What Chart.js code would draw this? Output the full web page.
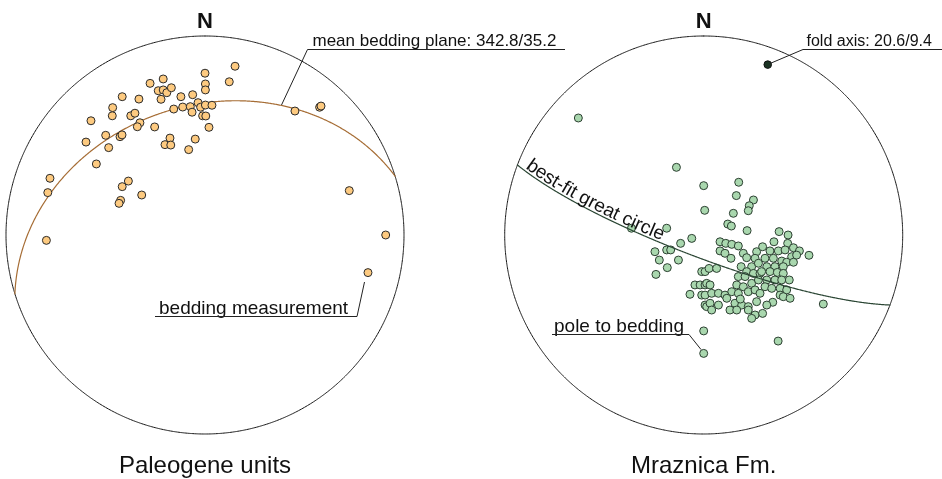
<!DOCTYPE html>
<html>
<head>
<meta charset="utf-8">
<script src="https://cdn.jsdelivr.net/npm/chart.js@4.4.1/dist/chart.umd.min.js"></script>
<style>
html,body{margin:0;padding:0;background:#ffffff;}
#wrap{width:942px;height:479px;position:relative;}
canvas{display:block;}
</style>
</head>
<body>
<div id="wrap"><canvas id="c" width="942" height="479"></canvas></div>
<script>
// ---------------- DATA ----------------
const northLabel = "N";
const leftTitle = "Paleogene units";
const rightTitle = "Mraznica Fm.";
const meanPlaneLabel = "mean bedding plane: 342.8/35.2";
const foldAxisLabel = "fold axis: 20.6/9.4";
const beddingLabel = "bedding measurement";
const poleLabel = "pole to bedding";
const gcLabel = "best-fit great circle";

// mean bedding plane (dip direction / dip), Paleogene units
const meanPlane = { dipDir: 342.8, dip: 35.2 };
// fold axis (trend / plunge), Mraznica Fm.
const foldAxis = { trend: 20.6, plunge: 9.4 };

// Paleogene units: bedding measurements, equal-area net coordinates [east, north] (unit radius)
const paleogeneBedding = [
  [0.151,0.848],[0.000,0.813],[0.122,0.770],[0.002,0.759],[0.002,0.729],[-0.276,0.762],
  [-0.210,0.784],[-0.235,0.725],[-0.210,0.729],[-0.192,0.715],[-0.169,0.740],[-0.221,0.682],
  [-0.121,0.695],[-0.062,0.705],[-0.416,0.695],[-0.332,0.683],[-0.464,0.640],[-0.466,0.599],
  [-0.373,0.599],[-0.352,0.612],[-0.573,0.574],[-0.157,0.633],[-0.112,0.643],[-0.074,0.645],
  [-0.065,0.617],[-0.035,0.665],[-0.022,0.642],[0.002,0.653],[0.035,0.652],[-0.012,0.599],
  [0.004,0.598],[-0.327,0.564],[-0.340,0.544],[-0.253,0.543],[0.020,0.541],[-0.598,0.467],
  [-0.499,0.501],[-0.427,0.494],[-0.417,0.503],[-0.484,0.439],[-0.176,0.487],[-0.201,0.454],
  [-0.172,0.452],[-0.049,0.482],[-0.082,0.429],[-0.546,0.357],[0.452,0.623],[0.576,0.642],
  [0.583,0.648],[-0.779,0.285],[-0.790,0.213],[-0.385,0.271],[-0.416,0.243],[-0.424,0.174],
  [-0.432,0.159],[-0.318,0.201],[0.725,0.223],[0.908,0.000],[0.819,-0.189],[-0.797,-0.027]
];

// Mraznica Fm.: poles to bedding, equal-area net coordinates [east, north]
const mraznicaScattered = [
  [-0.630,0.588],[-0.137,0.340],[0.000,0.248],[0.176,0.265],[0.164,0.198],[0.250,0.176],
  [0.229,0.147],[0.224,0.122],[0.005,0.124],[0.149,0.109],[0.121,0.055],[0.139,0.045],
  [0.218,0.022],[-0.363,0.034],[-0.186,0.034],[-0.060,-0.017],[-0.116,-0.042],[-0.245,-0.084],
  [-0.186,-0.075],[-0.166,-0.075],[-0.223,-0.126],[-0.127,-0.126],[-0.183,-0.164],[-0.240,-0.198],
  [0.529,-0.102],[0.601,-0.347],[0.000,-0.482],[0.374,-0.533],[0.000,-0.595]
];
const mraznicaWest = [
  [-0.010,-0.184],[0.007,-0.184],[0.027,-0.168],[0.065,-0.168],[-0.044,-0.251],[-0.018,-0.251],
  [0.007,-0.251],[0.015,-0.243],[0.032,-0.251],[-0.069,-0.298],[-0.010,-0.302],[0.007,-0.302],
  [0.040,-0.293],[0.074,-0.293],[0.107,-0.302],[0.007,-0.352],[0.015,-0.360],[0.032,-0.343],
  [0.074,-0.352],[0.040,-0.377]
];
const mraznicaCentral = [
  [0.082,-0.034],[0.111,-0.042],[0.141,-0.047],[0.174,-0.055],[0.082,-0.080],[0.107,-0.092],
  [0.137,-0.117],[0.199,-0.092],[0.216,-0.114],[0.266,-0.084],[0.258,-0.117],[0.188,-0.159],
  [0.241,-0.159],[0.275,-0.142],[0.216,-0.184],[0.250,-0.193],[0.174,-0.209],[0.208,-0.209],
  [0.283,-0.193],[0.166,-0.251],[0.199,-0.260],[0.241,-0.243],[0.275,-0.226],[0.141,-0.285],
  [0.174,-0.293],[0.224,-0.285],[0.258,-0.276],[0.116,-0.318],[0.157,-0.343],[0.191,-0.352],
  [0.224,-0.360],[0.266,-0.335],[0.132,-0.377],[0.166,-0.377],[0.258,-0.402],[0.224,-0.377],
  [0.241,-0.419],[0.184,-0.322]
];
const mraznicaEast = [
  [0.379,0.017],[0.424,0.000],[0.353,-0.034],[0.422,-0.042],[0.451,-0.064],[0.481,-0.080],
  [0.296,-0.059],[0.333,-0.080],[0.375,-0.080],[0.409,-0.075],[0.442,-0.109],[0.467,-0.101],
  [0.308,-0.117],[0.350,-0.117],[0.392,-0.131],[0.417,-0.137],[0.451,-0.137],[0.317,-0.159],
  [0.358,-0.159],[0.400,-0.159],[0.291,-0.184],[0.333,-0.184],[0.370,-0.188],[0.400,-0.193],
  [0.430,-0.226],[0.317,-0.226],[0.358,-0.226],[0.392,-0.226],[0.308,-0.260],[0.342,-0.268],
  [0.384,-0.268],[0.417,-0.276],[0.384,-0.302],[0.400,-0.310],[0.434,-0.318],[0.347,-0.338],
  [0.317,-0.352],[0.296,-0.394],[0.283,-0.293]
];

// ---------------- LAYOUT ----------------
const W = 942, H = 479;
const R_PX = 199;          // net radius in pixels
const LEFT_CX = 205;       // left net centre (px)
const RIGHT_CX = 703.7;    // right net centre (px)
const CY = 235;            // net centre y (px)
const RIGHT_OFFSET = (RIGHT_CX - LEFT_CX) / R_PX;

const FONT = '"Liberation Sans", Arial, Helvetica, sans-serif';

// ---------------- GEOMETRY (equal-area, lower hemisphere) ----------------
const D2R = Math.PI / 180;
function projectVec(n, e, d) {
  const plunge = Math.asin(Math.max(-1, Math.min(1, d)));
  const trend = Math.atan2(e, n);
  const r = Math.SQRT2 * Math.sin(Math.PI / 4 - plunge / 2);
  return { x: r * Math.sin(trend), y: r * Math.cos(trend) };
}
function projectLine(trendDeg, plungeDeg) {
  const t = trendDeg * D2R, p = plungeDeg * D2R;
  return projectVec(Math.cos(p) * Math.cos(t), Math.cos(p) * Math.sin(t), Math.sin(p));
}
function greatCircle(dipDir, dip, steps) {
  const s = (dipDir - 90) * D2R, dd = dipDir * D2R, dp = dip * D2R;
  const sh = [Math.cos(s), Math.sin(s), 0];
  const dh = [Math.cos(dp) * Math.cos(dd), Math.cos(dp) * Math.sin(dd), Math.sin(dp)];
  const pts = [];
  for (let i = 0; i <= steps; i++) {
    const t = Math.PI * i / steps, c = Math.cos(t), sn = Math.sin(t);
    pts.push(projectVec(c * sh[0] + sn * dh[0], c * sh[1] + sn * dh[1], c * sh[2] + sn * dh[2]));
  }
  return pts;
}
function primitive(steps) {
  const pts = [];
  for (let i = 0; i <= steps; i++) {
    const a = 2 * Math.PI * i / steps;
    pts.push({ x: Math.sin(a), y: Math.cos(a) });
  }
  return pts;
}
const shift = (pts, dx) => pts.map(p => ({ x: p.x + dx, y: p.y }));
const toXY = (arr, dx) => arr.map(p => ({ x: p[0] + dx, y: p[1] }));

const leftPlane = greatCircle(meanPlane.dipDir, meanPlane.dip, 240);
const rightPlane = shift(greatCircle((foldAxis.trend + 180) % 360, 90 - foldAxis.plunge, 240), RIGHT_OFFSET);
const foldPt = projectLine(foldAxis.trend, foldAxis.plunge);
const mraznicaAll = [].concat(mraznicaScattered, mraznicaWest, mraznicaCentral, mraznicaEast);

// ---------------- TEXT PLUGIN ----------------
const annotations = {
  id: 'annotations',
  afterDatasetsDraw(chart) {
    const ctx = chart.ctx;
    const xs = chart.scales.x, ys = chart.scales.y;
    const px = v => xs.getPixelForValue(v), py = v => ys.getPixelForValue(v);
    ctx.save();
    ctx.fillStyle = '#111';
    ctx.strokeStyle = '#222';
    ctx.lineWidth = 1;

    // North labels
    ctx.textAlign = 'center';
    ctx.textBaseline = 'alphabetic';
    ctx.font = 'bold 22px ' + FONT;
    ctx.fillText(northLabel, px(0), 27.5);
    ctx.fillText(northLabel, px(RIGHT_OFFSET), 27.5);

    // Titles
    ctx.font = '24px ' + FONT;
    ctx.fillText(leftTitle, px(0), 473);
    ctx.fillText(rightTitle, px(RIGHT_OFFSET), 473);

    ctx.textAlign = 'left';
    const line = pts => {
      ctx.beginPath();
      ctx.moveTo(pts[0][0], pts[0][1]);
      for (let i = 1; i < pts.length; i++) ctx.lineTo(pts[i][0], pts[i][1]);
      ctx.stroke();
    };

    // mean bedding plane
    ctx.font = '17px ' + FONT;
    ctx.fillText(meanPlaneLabel, 312.5, 45.5);
    line([[281.5, 105], [307.5, 49.5], [565, 49.5]]);

    // bedding measurement
    ctx.font = '19px ' + FONT;
    ctx.fillText(beddingLabel, 159, 314);
    line([[364.5, 282], [357, 316.5], [155, 316.5]]);

    // pole to bedding
    ctx.fillText(poleLabel, 554, 331.5);
    line([[552, 334.5], [689, 334.5], [701, 349.5]]);

    // fold axis
    ctx.font = '16px ' + FONT;
    ctx.fillText(foldAxisLabel, 806.5, 45.5);
    line([[px(foldPt.x + RIGHT_OFFSET) + 2, py(foldPt.y) - 1], [803, 49.5], [W, 49.5]]);

    // best-fit great circle label following the curve
    const path = rightPlane.slice().reverse().map(p => [px(p.x), py(p.y)]);
    const cum = [0];
    for (let i = 1; i < path.length; i++) {
      cum.push(cum[i - 1] + Math.hypot(path[i][0] - path[i - 1][0], path[i][1] - path[i - 1][1]));
    }
    const at = s => {
      let i = 1;
      while (i < cum.length - 1 && cum[i] < s) i++;
      const f = (s - cum[i - 1]) / (cum[i] - cum[i - 1]);
      const x = path[i - 1][0] + f * (path[i][0] - path[i - 1][0]);
      const y = path[i - 1][1] + f * (path[i][1] - path[i - 1][1]);
      const a = Math.atan2(path[i][1] - path[i - 1][1], path[i][0] - path[i - 1][0]);
      return { x, y, a };
    };
    ctx.font = '19px ' + FONT;
    let s = 8;
    for (const ch of gcLabel) {
      const w = ctx.measureText(ch).width;
      const p = at(s + w / 2);
      ctx.save();
      ctx.translate(p.x, p.y);
      ctx.rotate(p.a);
      ctx.fillText(ch, -w / 2, -2.5);
      ctx.restore();
      s += w;
    }
    ctx.restore();
  }
};

// ---------------- CHART ----------------
const lineDs = (data, color, width, order) => ({
  type: 'scatter', data, showLine: true, borderColor: color, borderWidth: width,
  pointRadius: 0, fill: false, tension: 0.0001, order
});

new Chart(document.getElementById('c'), {
  type: 'scatter',
  data: {
    datasets: [
      lineDs(primitive(360), '#111111', 1, 6),
      lineDs(shift(primitive(360), RIGHT_OFFSET), '#111111', 1, 6),
      lineDs(leftPlane, '#a66d35', 1.2, 5),
      {
        label: leftTitle, data: toXY(paleogeneBedding, 0),
        backgroundColor: '#fdca80', borderColor: '#2a2a2a', borderWidth: 1,
        pointRadius: 4, order: 4
      },
      {
        label: rightTitle, data: toXY(mraznicaAll, RIGHT_OFFSET),
        backgroundColor: '#a9d7ae', borderColor: '#2c3f31', borderWidth: 1,
        pointRadius: 4, order: 4
      },
      lineDs(rightPlane, '#2b4634', 1.2, 3),
      {
        label: 'fold axis', data: [{ x: foldPt.x + RIGHT_OFFSET, y: foldPt.y }],
        backgroundColor: '#1b3323', borderColor: '#111', borderWidth: 1,
        pointRadius: 3.8, order: 1
      }
    ]
  },
  options: {
    responsive: false,
    devicePixelRatio: 1,
    animation: false,
    layout: { padding: 0, autoPadding: false },
    plugins: { legend: { display: false }, tooltip: { enabled: false }, title: { display: false } },
    scales: {
      x: { type: 'linear', display: false, min: -LEFT_CX / R_PX, max: (W - LEFT_CX) / R_PX },
      y: { type: 'linear', display: false, min: -(H - CY) / R_PX, max: CY / R_PX }
    },
    elements: { line: { borderCapStyle: 'round' } }
  },
  plugins: [annotations]
});
</script>
</body>
</html>
